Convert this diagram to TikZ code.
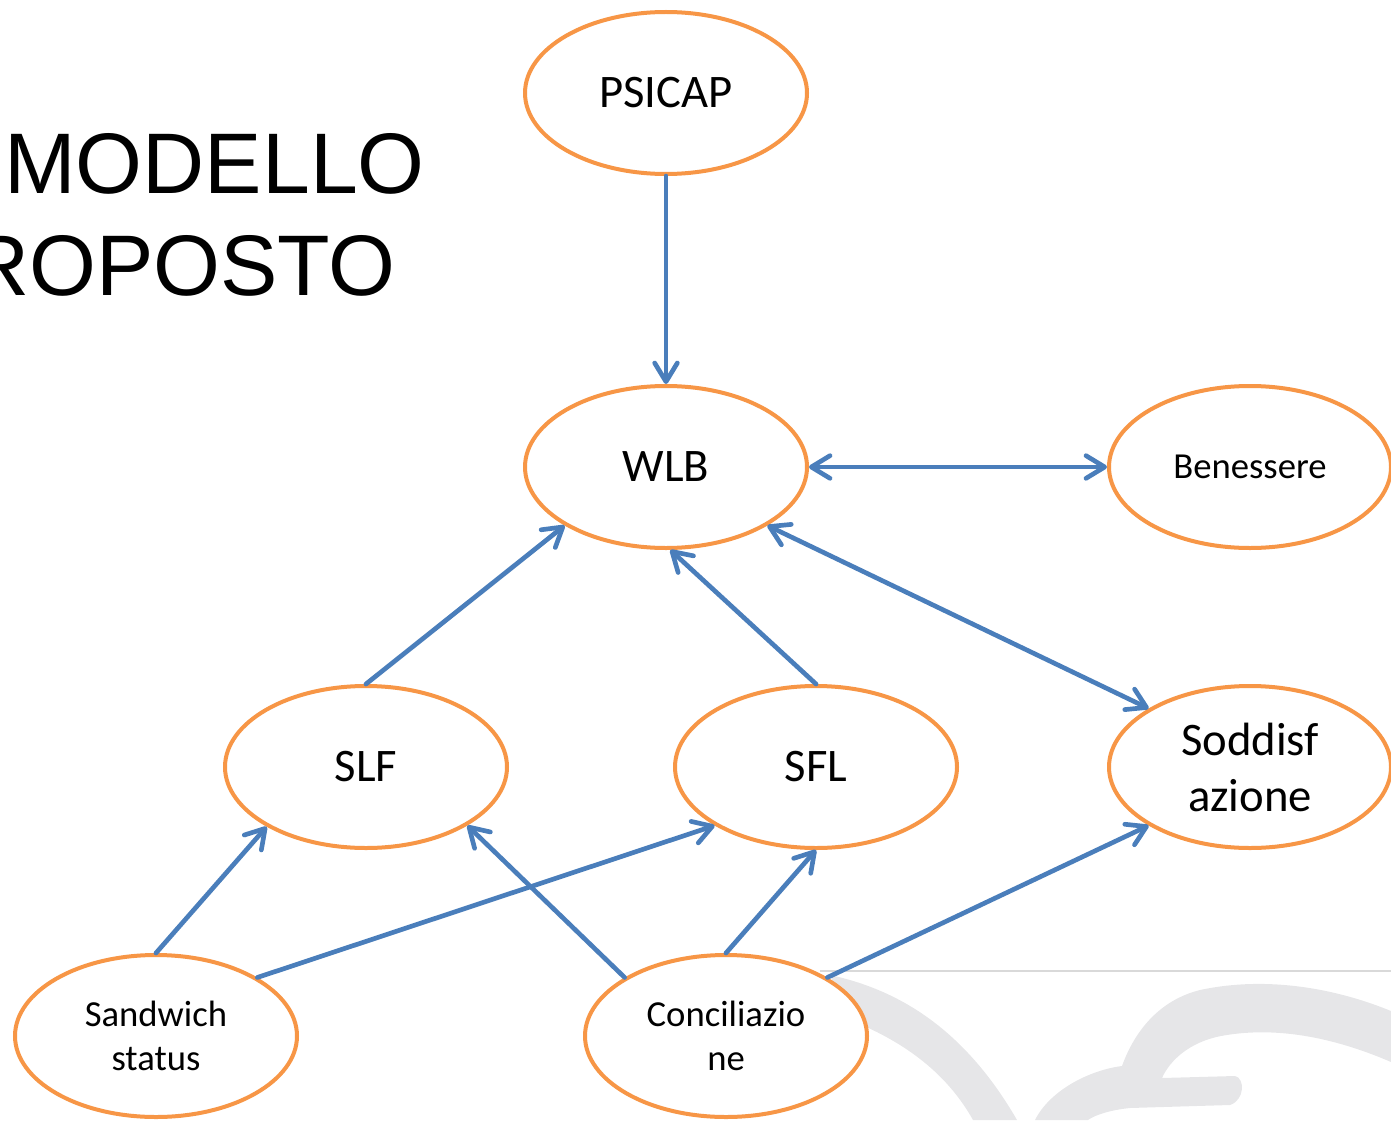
\documentclass[tikz,border=0pt]{standalone}
\usepackage{fontspec}
\setmainfont{Carlito}
\newfontfamily\titlefont{Liberation Sans}
\usetikzlibrary{arrows.meta,shapes.geometric}
\definecolor{eorange}{HTML}{F79646}
\definecolor{eblue}{HTML}{4A7EBB}
\definecolor{wmgray}{HTML}{E6E6E8}
\definecolor{rulegray}{HTML}{D9D9D9}
\begin{document}
\begin{tikzpicture}[x=0.75pt,y=-0.75pt,
  ell/.style={ellipse,draw=eorange,line width=3pt,fill=white,minimum width=211.5pt,minimum height=121.5pt,inner sep=0pt,align=center},
  big/.style={font=\fontsize{35}{42}\selectfont},
  small/.style={font=\fontsize{27.5}{33}\selectfont},
  conn/.style={draw=eblue,line width=3.5pt,line cap=round},
  titletxt/.style={inner sep=0pt,font=\titlefont\fontsize{64.5}{77}\selectfont},
  >={Straight Barb[length=14pt,width=17pt,round]}]
\useasboundingbox (0,0) rectangle (1391,1120);
\clip (0,0) rectangle (1391,1120);
% watermark and rule
\fill[wmgray] (830,975) .. controls (900,990) and (965,1030) .. (1017,1120) -- (973,1120) .. controls (945,1070) and (900,1040) .. (850,1020) -- cycle;
\fill[wmgray] (1035,1120) .. controls (1050,1090) and (1090,1070) .. (1122,1066) .. controls (1135,1030) and (1160,1000) .. (1200,990) .. controls (1270,975) and (1340,990) .. (1391,1011) -- (1391,1062) .. controls (1340,1040) and (1280,1025) .. (1221,1036) .. controls (1190,1042) and (1170,1060) .. (1162,1078) -- (1235,1076) .. controls (1245,1078) and (1245,1100) .. (1230,1105) -- (1130,1108) .. controls (1110,1110) and (1095,1115) .. (1088,1120) -- cycle;
\coordinate (rulestart) at (820,971);
\coordinate (ruleend) at (1391,971);
\draw[rulegray,line width=1.5pt] (rulestart) -- (ruleend);
% title
\node[titletxt,anchor=base west] (t1) at (4,193) {MODELLO};
\node[titletxt,anchor=base east] (t2) at (396,295) {PROPOSTO};
% nodes
\node[ell,big] (psicap) at (666,93) {PSICAP};
\node[ell,big] (wlb) at (666,467) {WLB};
\node[ell,small] (ben) at (1250,467) {Benessere};
\node[ell,big] (slf) at (366,767) {SLF};
\node[ell,big] (sfl) at (816,767) {SFL};
\node[ell,big] (sod) at (1250,767) {Soddisf\\azione};
\node[ell,small] (sw) at (156,1036) {Sandwich\\status};
\node[ell,small] (con) at (726,1036) {Conciliazio\\ne};
% connectors
\draw[conn,->] (psicap.south) -- (wlb.north);
\draw[conn,<->] (wlb.east) -- (ben.west);
\draw[conn,->] (slf.north) -- (wlb.210);
\draw[conn,->] (sfl.north) -- (wlb.273);
\draw[conn,<->] (wlb.330) -- (sod.150);
\draw[conn,->] (sw.north) -- (slf.211);
\draw[conn,->] (sw.30) -- (sfl.210);
\draw[conn,->] (con.150) -- (slf.330);
\draw[conn,->] (con.north) -- (sfl.south);
\draw[conn,->] (con.30) -- (sod.210);
\end{tikzpicture}
\end{document}
